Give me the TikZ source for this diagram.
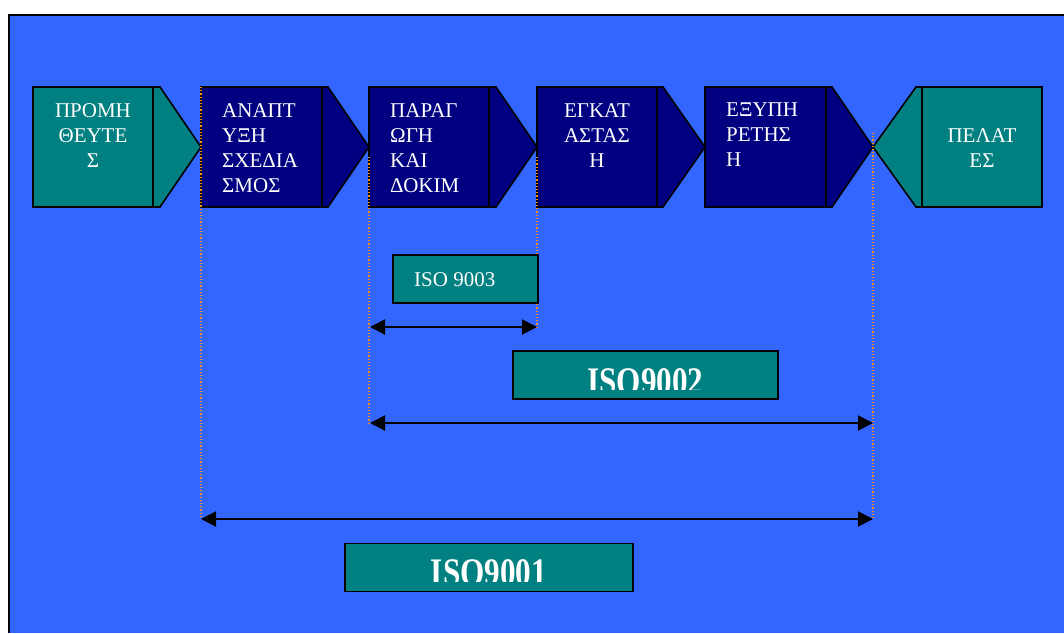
\documentclass[tikz,border=0pt]{standalone}
\usepackage{fontspec}
\setmainfont{Liberation Serif}
\usetikzlibrary{arrows.meta}
\definecolor{bgblue}{HTML}{3366FF}
\definecolor{tealc}{HTML}{008080}
\definecolor{navyc}{HTML}{000080}
\definecolor{guidec}{HTML}{FF8C1A}
\tikzset{
  shp/.style={draw=black, line width=1.6pt, line join=miter},
  lbl/.style={text=white, font=\fontsize{21}{25}\selectfont, inner sep=0pt},
  isobox/.style={draw=black, line width=1.4pt, fill=tealc, inner sep=0pt},
  isobig/.style={text=white, font=\fontsize{39}{39}\selectfont\bfseries, inner sep=0pt},
  guide/.style={draw=guidec, line width=1.1pt, dash pattern=on 1.2pt off 2pt},
  rangearrow/.style={line width=2pt, {Triangle[length=15pt,width=15pt]}-{Triangle[length=15pt,width=15pt]}}
}
\begin{document}
\begin{tikzpicture}[x=1pt,y=-1pt]
\useasboundingbox (0,0) rectangle (1064,633);
\fill[bgblue] (9,15) rectangle (1064,633);
\draw[line width=2pt] (9,633) -- (9,15) -- (1064,15);

% process chevrons
\draw[shp, fill=tealc] (33,87) -- (160,87) -- (201,147) -- (160,207) -- (33,207) -- cycle;
\draw[shp] (153,87) -- (153,207);
\draw[shp, fill=navyc] (201,87) -- (328,87) -- (369,147) -- (328,207) -- (201,207) -- cycle;
\draw[shp] (322,87) -- (322,207);
\draw[shp, fill=navyc] (369,87) -- (496,87) -- (537,147) -- (496,207) -- (369,207) -- cycle;
\draw[shp] (489,87) -- (489,207);
\draw[shp, fill=navyc] (537,87) -- (663,87) -- (705,147) -- (663,207) -- (537,207) -- cycle;
\draw[shp] (657,87) -- (657,207);
\draw[shp, fill=navyc] (705,87) -- (832,87) -- (873,147) -- (832,207) -- (705,207) -- cycle;
\draw[shp] (826,87) -- (826,207);
\draw[shp, fill=tealc] (873,147) -- (916,87) -- (1042,87) -- (1042,207) -- (916,207) -- cycle;
\draw[shp] (922,87) -- (922,207);

\node[lbl, align=center, anchor=north] (t1) at (93,103) {ΠΡΟΜΗ\\ΘΕΥΤΕ\\Σ};
\node[lbl, align=left, anchor=north west] (t2) at (222,103) {ΑΝΑΠΤ\\ΥΞΗ\\ΣΧΕΔΙΑ\\ΣΜΟΣ};
\node[lbl, align=left, anchor=north west] (t3) at (390,103) {ΠΑΡΑΓ\\ΩΓΗ\\ΚΑΙ\\ΔΟΚΙΜ};
\node[lbl, align=center, anchor=north] (t4) at (597,103) {ΕΓΚΑΤ\\ΑΣΤΑΣ\\Η};
\node[lbl, align=left, anchor=north west] (t5) at (726,103) {ΕΞΥΠΗ\\ΡΕΤΗΣ\\Η};
\node[lbl, align=center, anchor=north] (t6) at (982,128) {ΠΕΛΑΤ\\ΕΣ};

% guide coordinates
\coordinate (g1a) at (201,87);  \coordinate (g1b) at (201,519);
\coordinate (g2a) at (369,157); \coordinate (g2b) at (369,423);
\coordinate (g3a) at (537,157); \coordinate (g3b) at (537,327);
\coordinate (g4a) at (873,133); \coordinate (g4b) at (873,519);
\draw[guide] (g1a) -- (g1b);
\draw[guide] (g2a) -- (g2b);
\draw[guide] (g3a) -- (g3b);
\draw[guide] (g4a) -- (g4b);

% ISO 9003
\node[isobox, minimum width=145pt, minimum height=48pt] (b3) at (465.5,279) {};
\node[lbl, anchor=base west] (l3) at (414,286) {ISO 9003};
\coordinate (a3l) at (370,327); \coordinate (a3r) at (537,327);
\draw[rangearrow] (a3l) -- (a3r);

% ISO9002
\node[isobox, minimum width=265pt, minimum height=48pt] (b2) at (645.5,375) {};
\begin{scope}
\clip (513,351) rectangle (778,389);
\node[isobig, anchor=base] (l2) at (645.5,394.5) {\scalebox{0.8}[1]{ISO9002}};
\end{scope}
\coordinate (a2l) at (370,423); \coordinate (a2r) at (873,423);
\draw[rangearrow] (a2l) -- (a2r);

% ISO9001
\coordinate (a1l) at (201,519); \coordinate (a1r) at (873,519);
\draw[rangearrow] (a1l) -- (a1r);
\node[isobox, minimum width=288pt, minimum height=48pt] (b1) at (489,567.5) {};
\begin{scope}
\clip (345,543) rectangle (633,581);
\node[isobig, anchor=base] (l1) at (489,585.5) {\scalebox{0.8}[1]{ISO9001}};
\end{scope}
\end{tikzpicture}
\end{document}
